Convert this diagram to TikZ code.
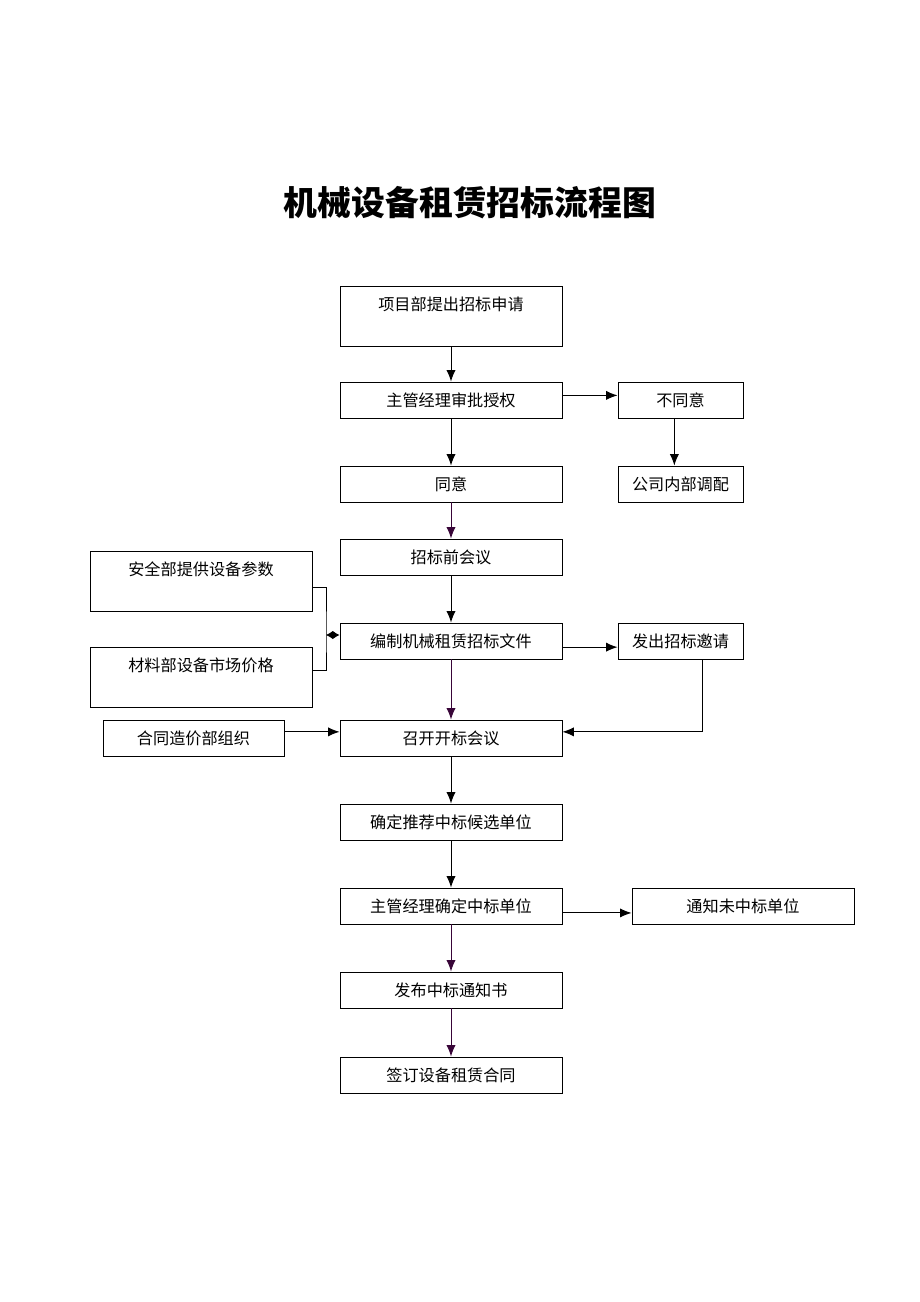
\documentclass[tikz,border=0pt]{standalone}
\usepackage{fontspec}
\setmainfont{Noto Sans CJK SC}
\usetikzlibrary{arrows.meta}
\definecolor{darkline}{rgb}{0.22,0.02,0.22}
\tikzset{
    box/.style={draw, line width=0.55pt, minimum width=144.3pt, minimum height=23.4pt, inner sep=0pt, font=\fontsize{10.5}{12.6}\selectfont},
    tallbox/.style={box, minimum height=39pt, align=center},
    smallbox/.style={box, minimum width=81.25pt},
    arr/.style={line width=0.65pt, -{Latex[length=7.5pt,width=6pt]}},
    link/.style={line width=0.6pt}
}

\begin{document}
\begin{tikzpicture}[x=0.65pt, y=-0.65pt]
            \useasboundingbox (0, 0) rectangle (920, 1302);
            \node[font=\fontsize{22}{26}\selectfont\bfseries] (title) at (470, 203) {机械设备租赁招标流程图};

            \node[tallbox] (shenqing) at (451, 316) {项目部提出招标申请\\[4pt]~};
            \node[box] (shenpi) at (451, 400) {主管经理审批授权};
            \node[smallbox] (butongyi) at (680.5, 400) {不同意};
            \node[box] (tongyi) at (451, 484) {同意};
            \node[smallbox] (tiaopei) at (680.5, 484) {公司内部调配};
            \node[box] (qianhui) at (451, 557) {招标前会议};
            \node[tallbox] (canshu) at (201, 581) {安全部提供设备参数\\[4pt]~};
            \node[tallbox] (jiage) at (201, 677) {材料部设备市场价格\\[4pt]~};
            \node[box] (bianzhi) at (451, 641) {编制机械租赁招标文件};
            \node[smallbox] (yaoqing) at (680.5, 641) {发出招标邀请};
            \node[box, minimum width=117.65pt] (zuzhi) at (193.5, 738) {合同造价部组织};
            \node[box] (kaibiao) at (451, 738) {召开开标会议};
            \node[box] (houxuan) at (451, 822) {确定推荐中标候选单位};
            \node[box] (queding) at (451, 906) {主管经理确定中标单位};
            \node[box] (weizhong) at (743, 906) {通知未中标单位};
            \node[box] (tongzhi) at (451, 990) {发布中标通知书};
            \node[box] (hetong) at (451, 1075) {签订设备租赁合同};
            \coordinate (brk) at (326, 635);

            \draw[arr] (shenqing) -- (shenpi);
            \draw[arr] ([yshift=3pt]shenpi.east) -- ([yshift=3pt]butongyi.west);
            \draw[arr] ([xshift=-4pt]butongyi.south) -- ([xshift=-4pt]tiaopei.north);
            \draw[arr] (shenpi) -- (tongyi);
            \draw[arr, darkline] (tongyi) -- (qianhui);
            \draw[arr] (qianhui) -- (bianzhi);
            \draw[link] ([yshift=-4pt]canshu.east) -| (brk) |- ([yshift=4pt]jiage.east);
            \draw[line width=0.65pt, {Latex[length=4.5pt,width=5.5pt]}-{Latex[length=4.5pt,width=5.5pt]}] (brk) -- (bianzhi.west |- brk);
            \draw[arr] ([yshift=-4pt]bianzhi.east) -- ([yshift=-4pt]yaoqing.west);
            \draw[arr, darkline] (bianzhi) -- (kaibiao);
            \draw[arr] ([xshift=14pt]yaoqing.south) |- ([yshift=4pt]kaibiao.east);
            \draw[arr] ([yshift=4pt]zuzhi.east) -- ([yshift=4pt]kaibiao.west);
            \draw[arr] (kaibiao) -- (houxuan);
            \draw[arr] (houxuan) -- (queding);
            \draw[arr] ([yshift=-4.5pt]queding.east) -- ([yshift=-4.5pt]weizhong.west);
            \draw[arr, darkline] (queding) -- (tongzhi);
            \draw[arr, darkline] (tongzhi) -- (hetong);
        \end{tikzpicture}
\end{document}
